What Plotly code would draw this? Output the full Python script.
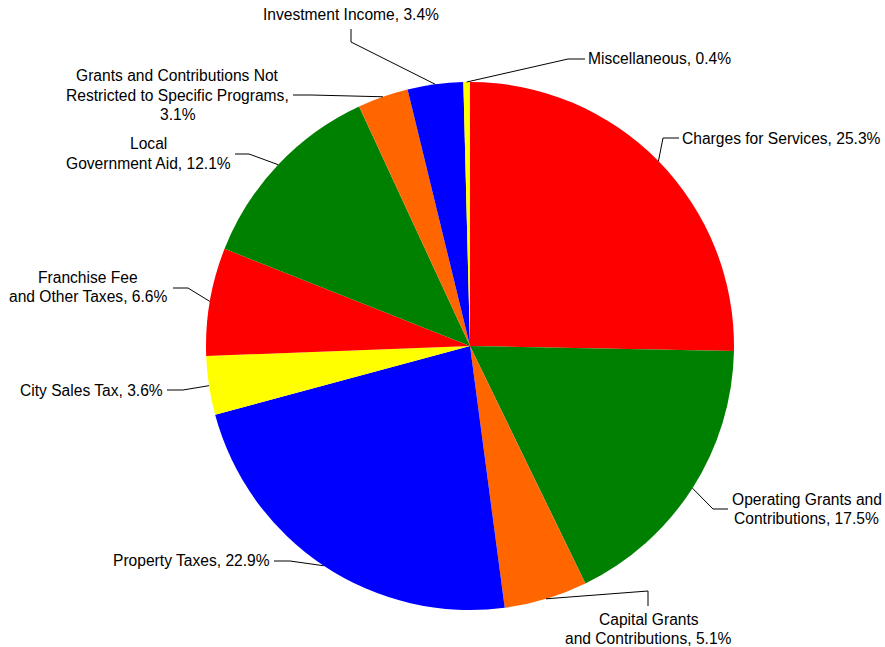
import math
import plotly.graph_objects as go

# ---- data ----
categories = [
    "Charges for Services",
    "Operating Grants and Contributions",
    "Capital Grants and Contributions",
    "Property Taxes",
    "City Sales Tax",
    "Franchise Fee and Other Taxes",
    "Local Government Aid",
    "Grants and Contributions Not Restricted to Specific Programs",
    "Investment Income",
    "Miscellaneous",
]
values = [25.3, 17.5, 5.1, 22.9, 3.6, 6.6, 12.1, 3.1, 3.4, 0.4]
colors = ["#FF0000", "#008000", "#FF6600", "#0000FF", "#FFFF00",
          "#FF0000", "#008000", "#FF6600", "#0000FF", "#FFFF00"]
# number of words of the name on each wrapped line (last line also gets the value)
wrap_words = [
    [3],
    [3, 1],
    [2, 2],
    [2],
    [3],
    [2, 3],
    [1, 2],
    [4, 4, 0],
    [2],
    [1],
]

# ---- layout geometry (page pixels) ----
W, H = 885, 647
CX, CY, R = 470, 346, 264
LINE = 19
FONT = dict(family="Arial, Liberation Sans, sans-serif", size=15.6, color="#000000")

# label placement: (text x, first line y, xanchor, elbow pt, end pt)
placements = [
    (681, 138.3, "left", (663, 138), (679, 138)),
    (806.7, 499.5, "center", (713, 509), (728, 509)),
    (648.7, 619.3, "center", (648, 591), (648, 606)),
    (271, 560, "right", (290, 561), (274, 561)),
    (164, 390, "right", (183, 390), (167, 390)),
    (88, 277.7, "center", (188, 288), (173, 288)),
    (148.3, 144, "center", (249, 154), (235, 154)),
    (177.8, 76, "center", (311, 95), (293, 95)),
    (350.5, 15, "center", (351, 42), (351, 29)),
    (587, 58.5, "left", (568, 59), (585, 59)),
]


def px(x):
    return x / W


def py(y):
    return 1 - y / H


fig = go.Figure(go.Pie(
    labels=categories,
    values=values,
    marker=dict(colors=colors, line=dict(width=0)),
    sort=False,
    direction="clockwise",
    rotation=0,
    textinfo="none",
    hoverinfo="label+percent",
    showlegend=False,
    domain=dict(x=[px(CX - R), px(CX + R)], y=[py(CY + R), py(CY - R)]),
))

total = sum(values)
cum = 0.0
shapes = []
annotations = []
for name, wrap, v, pl in zip(categories, wrap_words, values, placements):
    theta = math.radians(360 * (cum + v / 2) / total)
    cum += v
    ex = CX + R * math.sin(theta)
    ey = CY - R * math.cos(theta)
    tx, ty, xa, (bx, by), (sx, sy) = pl
    path = f"M {px(ex)},{py(ey)} L {px(bx)},{py(by)} L {px(sx)},{py(sy)}"
    shapes.append(dict(type="path", path=path, xref="paper", yref="paper",
                       line=dict(color="#000000", width=1)))
    # build wrapped lines
    words = name.split(" ")
    lines = []
    k = 0
    for n in wrap:
        lines.append(" ".join(words[k:k + n]))
        k += n
    if lines[-1]:
        lines[-1] = f"{lines[-1]}, {v}%"
    else:
        lines[-2] = lines[-2] + ","
        lines[-1] = f"{v}%"
    for i, ln in enumerate(lines):
        annotations.append(dict(x=px(tx), y=py(ty + i * LINE), xref="paper", yref="paper",
                                text=ln, showarrow=False, xanchor=xa, yanchor="middle",
                                borderpad=0, font=FONT))

fig.update_layout(
    width=W, height=H,
    margin=dict(l=0, r=0, t=0, b=0),
    paper_bgcolor="white", plot_bgcolor="white",
    shapes=shapes, annotations=annotations,
    showlegend=False,
)

fig.write_html(
    "out.html",
    config={"displayModeBar": False},
    post_script="document.body.style.margin='0';"
                "document.documentElement.style.overflow='hidden';",
)
